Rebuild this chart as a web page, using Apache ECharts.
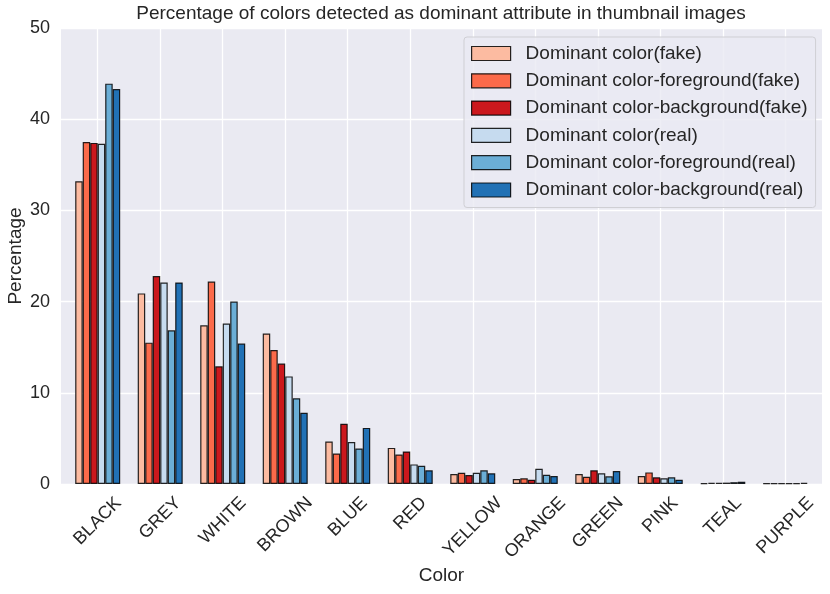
<!DOCTYPE html>
<html>
<head>
<meta charset="utf-8">
<script src="https://cdn.jsdelivr.net/npm/echarts@6/dist/echarts.min.js"></script>
<style>html,body{margin:0;padding:0;background:#fff}#c{width:830px;height:594px}</style>
</head>
<body>
<div id="c"></div>
<script>
const categories = ['BLACK','GREY','WHITE','BROWN','BLUE','RED','YELLOW','ORANGE','GREEN','PINK','TEAL','PURPLE'];
const seriesNames = ['Dominant color(fake)','Dominant color-foreground(fake)','Dominant color-background(fake)','Dominant color(real)','Dominant color-foreground(real)','Dominant color-background(real)'];
const colorFake = [33.2, 20.9, 17.4, 16.5, 4.66, 3.96, 1.09, 0.55, 1.09, 0.87, 0.10, 0.08];
const fgFake    = [37.5, 15.5, 22.2, 14.7, 3.35, 3.24, 1.23, 0.62, 0.80, 1.27, 0.12, 0.08];
const bgFake    = [37.4, 22.8, 12.9, 13.2, 6.60, 3.57, 0.98, 0.47, 1.50, 0.73, 0.12, 0.10];
const colorReal = [37.3, 22.1, 17.6, 11.8, 4.60, 2.15, 1.23, 1.67, 1.17, 0.62, 0.15, 0.10];
const fgReal    = [43.9, 16.85, 20.0, 9.4, 3.90, 2.00, 1.50, 1.02, 0.84, 0.73, 0.20, 0.10];
const bgReal    = [43.3, 22.1, 15.4, 7.8, 6.15, 1.50, 1.17, 0.87, 1.42, 0.47, 0.25, 0.12];
const yTicks = [0, 10, 20, 30, 40, 50];

const seriesValues = [colorFake, fgFake, bgFake, colorReal, fgReal, bgReal];
const palette = ['#fcbba1','#fb6a4a','#cb181d','#c6dbef','#6baed6','#2171b5'];
const FONT = '"Liberation Sans", Arial, sans-serif';
const TXT = '#262626';
const tickFont = 18;

// rotated tick labels placed like matplotlib (rotation=45, ha='center'):
// the label's centre sits below the tick by an amount that grows with its length
const mctx = document.createElement('canvas').getContext('2d');
mctx.font = tickFont + 'px "Liberation Sans"';
const catData = categories.map(c => {
  const L = mctx.measureText(c).width;
  const b = 10 + 0.25 * L;
  return {
    value: c,
    textStyle: {
      align: 'center', verticalAlign: 'top',
      fontSize: tickFont, color: TXT, fontFamily: FONT,
      lineHeight: 2 * b,
      padding: [0, 2 * b, 0, 0]
    }
  };
});

const chart = echarts.init(document.getElementById('c'), null, { renderer: 'canvas' });
const option = {
  animation: false,
  textStyle: { fontFamily: FONT },
  title: {
    text: 'Percentage of colors detected as dominant attribute in thumbnail images',
    left: 441, top: 4, padding: 0, textAlign: 'center',
    textStyle: { fontFamily: FONT, fontSize: 19, fontWeight: 'normal', color: TXT }
  },
  legend: {
    orient: 'vertical', left: 464, top: 37,
    padding: [7, 8, 8, 7],
    icon: 'rect',
    itemWidth: 39, itemHeight: 14, itemGap: 8.3,
    backgroundColor: 'rgba(234,234,242,0.8)', borderColor: '#cfcfd4', borderWidth: 1, borderRadius: 3,
    textStyle: { fontFamily: FONT, fontSize: 19, color: TXT, padding: [0, 0, 0, 10] },
    itemStyle: { borderColor: 'rgba(0,0,0,0.85)', borderWidth: 1.2 },
    data: seriesNames
  },
  grid: [
    { left: 61, right: 8, top: 28, bottom: 110, show: true, backgroundColor: '#eaeaf2', borderWidth: 0, containLabel: false, outerBoundsMode: 'none' },
    { left: 66.45, right: 13.45, top: 28, bottom: 110, containLabel: false, outerBoundsMode: 'none' }
  ],
  xAxis: [
    { gridIndex: 0, type: 'category', data: categories, show: false },
    {
      gridIndex: 1, type: 'category', data: catData,
      axisLine: { show: false }, axisTick: { show: false },
      splitLine: { show: true, alignWithLabel: true, lineStyle: { color: '#ffffff', width: 1.3 } },
      axisLabel: { rotate: 45, margin: 2, fontSize: tickFont, color: TXT, fontFamily: FONT, interval: 0 },
      name: 'Color', nameLocation: 'middle', nameGap: 82, nameMoveOverlap: false,
      nameTextStyle: { fontSize: 19, color: TXT, fontFamily: FONT }
    }
  ],
  yAxis: [
    {
      gridIndex: 0, type: 'value', min: yTicks[0], max: yTicks[yTicks.length - 1], interval: 10,
      axisLine: { show: false }, axisTick: { show: false },
      splitLine: { show: true, lineStyle: { color: '#ffffff', width: 1.3 } },
      axisLabel: { fontSize: tickFont, color: TXT, margin: 11, fontFamily: FONT },
      name: 'Percentage', nameLocation: 'middle', nameGap: 36, nameMoveOverlap: false,
      nameTextStyle: { fontSize: 19, color: TXT, fontFamily: FONT }
    },
    { gridIndex: 1, type: 'value', min: 0, max: 50, show: false, splitLine: { show: false } }
  ],
  series: seriesValues.map((vals, i) => ({
    name: seriesNames[i], type: 'bar', xAxisIndex: 1, yAxisIndex: 1,
    data: vals, barWidth: 7.5, barGap: '0%',
    itemStyle: { color: palette[i], borderColor: 'rgba(0,0,0,0.85)', borderWidth: 1.2 }
  }))
};
chart.setOption(option);
</script>
</body>
</html>
